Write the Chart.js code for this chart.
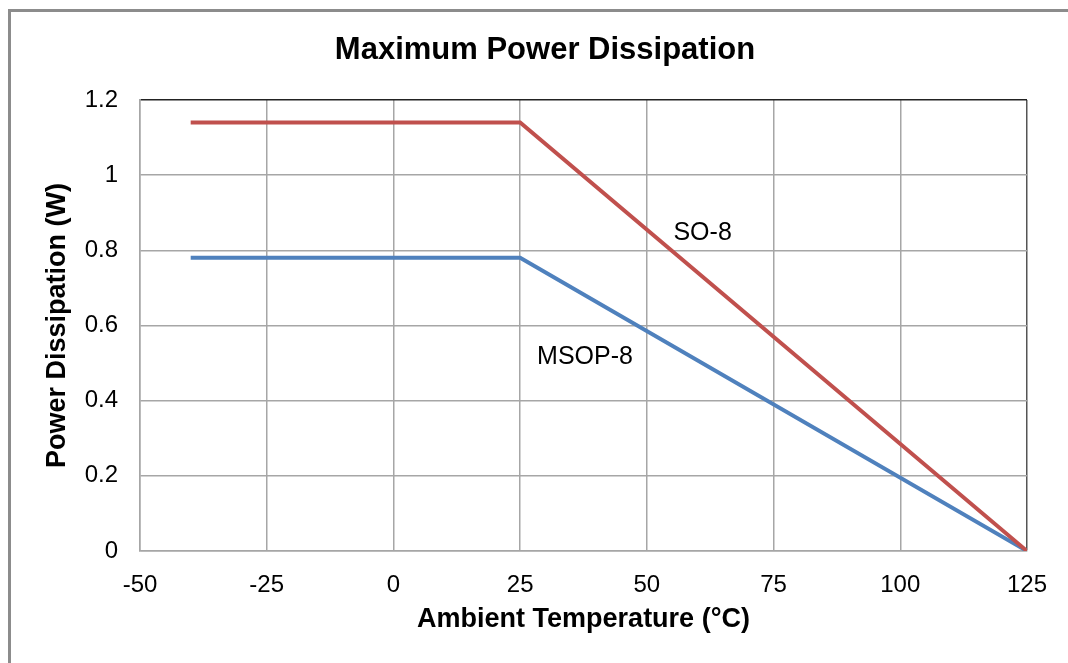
<!DOCTYPE html>
<html>
<head>
<meta charset="utf-8">
<script src="https://cdn.jsdelivr.net/npm/chart.js@4.4.0/dist/chart.umd.min.js"></script>
<style>
  html, body { margin: 0; padding: 0; background: #ffffff; }
  #wrap { position: relative; width: 1068px; height: 663px; overflow: hidden; }
  #frame { position: absolute; left: 8px; top: 9px; width: 1100px; height: 700px;
           border-top: 3px solid #8c8c8c; border-left: 3px solid #8c8c8c; box-sizing: border-box; }
  #c { position: absolute; left: 0; top: 0; }
</style>
</head>
<body>
<div id="wrap">
  <div id="frame"></div>
  <canvas id="c" width="1068" height="663"></canvas>
</div>
<script>
// ---- data ----
const temperatures = [-40, 25, 125];
const so8Power = [1.14, 1.14, 0];
const msop8Power = [0.78, 0.78, 0];
const seriesNames = ['SO-8', 'MSOP-8'];
const xTickValues = [-50, -25, 0, 25, 50, 75, 100, 125];
const yTickValues = [0, 0.2, 0.4, 0.6, 0.8, 1, 1.2];
const labelNames = ['SO-8', 'MSOP-8'];
const labelX = [61, 37.8];
const labelY = [0.846, 0.516];
const chartTitle = 'Maximum Power Dissipation';
const xTitle = 'Ambient Temperature (°C)';
const yTitle = 'Power Dissipation (W)';

const FONT = "'Liberation Sans', Arial, sans-serif";

const seriesLabelsPlugin = {
  id: 'seriesLabels',
  afterDatasetsDraw(chart) {
    const ctx = chart.ctx;
    const xs = chart.scales.x, ys = chart.scales.y;
    ctx.save();
    ctx.font = '25px ' + FONT;
    ctx.fillStyle = '#000';
    ctx.textAlign = 'center';
    ctx.textBaseline = 'middle';
    labelNames.forEach((t, i) => {
      ctx.fillText(t, xs.getPixelForValue(labelX[i]), ys.getPixelForValue(labelY[i]));
    });
    ctx.restore();
  }
};

new Chart(document.getElementById('c'), {
  type: 'line',
  data: {
    datasets: [
      {
        label: seriesNames[0],
        data: temperatures.map((t, i) => ({ x: t, y: so8Power[i] })),
        borderColor: '#C0504D',
        borderWidth: 4,
        pointRadius: 0,
        fill: false,
        tension: 0
      },
      {
        label: seriesNames[1],
        data: temperatures.map((t, i) => ({ x: t, y: msop8Power[i] })),
        borderColor: '#4F81BD',
        borderWidth: 4,
        pointRadius: 0,
        fill: false,
        tension: 0
      }
    ]
  },
  options: {
    responsive: false,
    animation: false,
    events: [],
    layout: { padding: { left: 22, right: 0, top: 10, bottom: 0 } },
    plugins: {
      legend: { display: false },
      tooltip: { enabled: false },
      title: {
        display: true,
        text: chartTitle,
        color: '#000',
        font: { family: FONT, size: 31, weight: 'bold' },
        padding: { top: 21.4, bottom: 31.4 }
      }
    },
    scales: {
      x: {
        type: 'linear',
        min: -50,
        max: 125,
        afterBuildTicks(scale) { scale.ticks = xTickValues.map(v => ({ value: v })); },
        afterFit(scale) { scale.height = 112; },
        ticks: {
          color: '#000',
          font: { family: FONT, size: 24 },
          padding: 20,
          maxRotation: 0,
          autoSkip: false
        },
        grid: {
          drawTicks: false,
          lineWidth: 1.5,
          color: ctx => (ctx.tick && ctx.tick.value === 125) ? '#555555' : '#a6a6a6'
        },
        border: { display: true, color: '#a6a6a6', width: 1.5 },
        title: {
          display: true,
          text: xTitle,
          color: '#000',
          font: { family: FONT, size: 27, weight: 'bold' },
          padding: { top: 0, bottom: 26.8 }
        }
      },
      y: {
        type: 'linear',
        min: 0,
        max: 1.2,
        afterBuildTicks(scale) { scale.ticks = yTickValues.map(v => ({ value: v })); },
        afterFit(scale) { scale.width = 118; },
        ticks: {
          color: '#000',
          font: { family: FONT, size: 24 },
          padding: 22,
          callback: v => String(+Number(v).toFixed(1))
        },
        grid: {
          drawTicks: false,
          lineWidth: 1.5,
          color: ctx => (ctx.tick && Math.abs(ctx.tick.value - 1.2) < 1e-9) ? '#222222' : '#a6a6a6'
        },
        border: { display: true, color: '#a6a6a6', width: 1.5 },
        title: {
          display: true,
          text: yTitle,
          color: '#000',
          font: { family: FONT, size: 27, weight: 'bold' },
          padding: { top: 19.8, bottom: 0 }
        }
      },
      yRight: {
        type: 'linear',
        position: 'right',
        display: true,
        min: 0,
        max: 1.2,
        afterFit(scale) { scale.width = 41; },
        ticks: { display: false },
        grid: { display: false, drawTicks: false },
        border: { display: false }
      }
    }
  },
  plugins: [seriesLabelsPlugin]
});
</script>
</body>
</html>
